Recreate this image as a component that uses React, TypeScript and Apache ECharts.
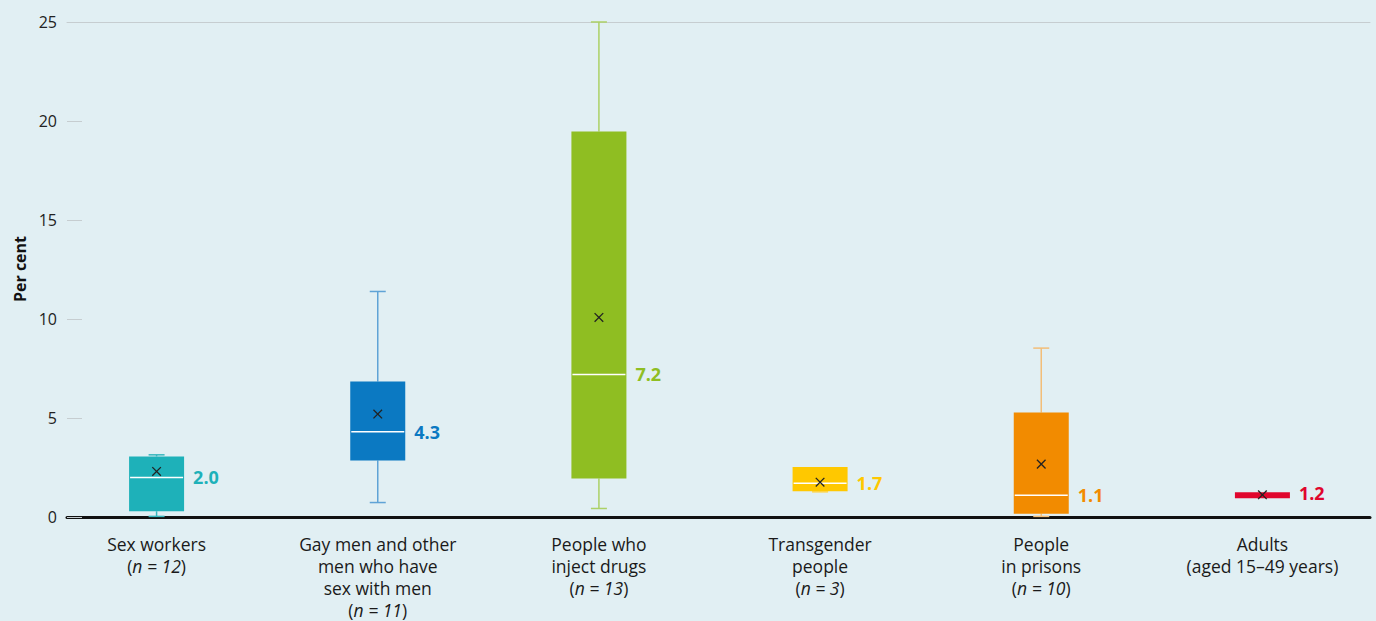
import React, { useEffect, useRef } from "react";
import * as echarts from "echarts";

// ---- Data ----
const categories = [
  "Sex workers",
  "Gay men and other\nmen who have\nsex with men",
  "People who\ninject drugs",
  "Transgender\npeople",
  "People\nin prisons",
  "Adults",
];
const sampleSizes = ["n = 12", "n = 11", "n = 13", "n = 3", "n = 10", ""];
const adultsNote = "(aged 15–49 years)";
const whiskerMin = [0.03, 0.73, 0.43, 1.27, 0.03, 0.95];
const quartile1 = [0.29, 2.85, 1.94, 1.3, 0.16, 0.95];
const medians = [2.0, 4.3, 7.2, 1.7, 1.1, 1.2];
const quartile3 = [3.06, 6.84, 19.47, 2.52, 5.28, 1.25];
const whiskerMax = [3.14, 11.39, 25.0, 2.52, 8.53, 1.25];
const means = [2.3, 5.2, 10.08, 1.76, 2.67, 1.12];
const yMin = 0;
const yMax = 25;
const yInterval = 5;

// ---- Styles ----
const palette = ["#1eb1b9", "#0b79c2", "#8fbe22", "#ffc800", "#f28b00", "#e0062d"];
const whiskerPalette = ["#38b7be", "#5fa3d6", "#acd166", "#ffd54a", "#f3be78", "#e0062d"];
const bg = "#e1eff3";
const fontFamily = "'Open Sans', 'Noto Sans', sans-serif";

export default function App() {
  const ref = useRef<HTMLDivElement>(null);

  useEffect(() => {
    if (!ref.current) return;
    const chart = echarts.init(ref.current, undefined, { renderer: "svg" });

    const seriesData = categories.map((_, i) => [
      i,
      whiskerMin[i],
      quartile1[i],
      medians[i],
      quartile3[i],
      whiskerMax[i],
      means[i],
    ]);

    const option: any = {
      animation: false,
      backgroundColor: bg,
      textStyle: { fontFamily },
      grid: [
        { left: 46, right: 3, top: 22, bottom: 104 },
        { left: 67, right: 6, top: 22, bottom: 104 },
      ],
      xAxis: [
        {
          type: "category",
          gridIndex: 0,
          data: categories,
          axisLine: { show: false },
          axisTick: { show: false },
          splitLine: { show: false },
          axisLabel: {
            interval: 0,
            margin: 16,
            fontSize: 17.5,
            lineHeight: 22,
            color: "#1a1a1a",
            fontFamily,
            formatter: (value: string, idx: number) => {
              const n = sampleSizes[idx];
              if (n) return `${value}\n({i|${n}})`;
              return `${value}\n${adultsNote}`;
            },
            rich: {
              i: {
                fontStyle: "italic",
                fontSize: 17.5,
                lineHeight: 22,
                color: "#1a1a1a",
                fontFamily,
              },
            },
          },
        },
        {
          type: "value",
          gridIndex: 1,
          min: 0,
          max: 1,
          position: "bottom",
          axisLine: { show: true, onZero: false, lineStyle: { color: "#111", width: 3 } },
          axisTick: { show: false },
          axisLabel: { show: false },
          splitLine: { show: false },
        },
        {
          type: "value",
          gridIndex: 1,
          min: 0,
          max: 1,
          position: "top",
          axisLine: { show: true, onZero: false, lineStyle: { color: "#c6cdd0", width: 1 } },
          axisTick: { show: false },
          axisLabel: { show: false },
          splitLine: { show: false },
        },
      ],
      yAxis: [
        {
          type: "value",
          gridIndex: 0,
          min: yMin,
          max: yMax,
          show: false,
        },
        {
          type: "value",
          gridIndex: 1,
          min: yMin,
          max: yMax,
          interval: yInterval,
          axisLine: { show: false },
          axisTick: { show: true, inside: true, length: 15, lineStyle: { color: "#c6cdd0", width: 1 } },
          axisLabel: { margin: 10, fontSize: 16, color: "#222", fontFamily },
          splitLine: { show: false },
        },
      ],
      graphic: [
        {
          type: "text",
          x: 20,
          y: 269,
          rotation: Math.PI / 2,
          style: {
            text: "Per cent",
            font: `bold 16px ${fontFamily}`,
            fill: "#111",
            align: "center",
            verticalAlign: "middle",
          },
        },
      ],
      series: [
        {
          type: "custom",
          xAxisIndex: 0,
          yAxisIndex: 0,
          data: seriesData,
          encode: { x: 0, y: [1, 2, 3, 4, 5, 6] },
          renderItem: (params: any, api: any) => {
            const i = api.value(0);
            const cx = api.coord([i, 0])[0];
            const yLo = api.coord([i, api.value(1)])[1];
            const yQ1 = api.coord([i, api.value(2)])[1];
            const yMed = api.coord([i, api.value(3)])[1];
            const yQ3 = api.coord([i, api.value(4)])[1];
            const yHi = api.coord([i, api.value(5)])[1];
            const yMean = api.coord([i, api.value(6)])[1];
            const half = 27.5;
            const cap = 8;
            const m = 4.3;
            const color = palette[i];
            const wColor = whiskerPalette[i];
            const children: any[] = [];
            if (yHi < yQ3 - 0.5) {
              children.push({
                type: "line",
                shape: { x1: cx, y1: yHi, x2: cx, y2: yQ3 },
                style: { stroke: wColor, lineWidth: 1.5 },
              });
              children.push({
                type: "line",
                shape: { x1: cx - cap, y1: yHi, x2: cx + cap, y2: yHi },
                style: { stroke: wColor, lineWidth: 1.5 },
              });
            }
            if (yLo > yQ1 + 0.5) {
              children.push({
                type: "line",
                shape: { x1: cx, y1: yQ1, x2: cx, y2: yLo },
                style: { stroke: wColor, lineWidth: 1.5 },
              });
              children.push({
                type: "line",
                shape: { x1: cx - cap, y1: yLo, x2: cx + cap, y2: yLo },
                style: { stroke: wColor, lineWidth: 1.5 },
              });
            }
            children.push({
              type: "rect",
              shape: { x: cx - half, y: yQ3, width: half * 2, height: Math.max(yQ1 - yQ3, 1) },
              style: { fill: color },
            });
            if (api.value(4) - api.value(2) > 0.5) {
              children.push({
                type: "line",
                shape: { x1: cx - half + 1, y1: yMed, x2: cx + half - 1, y2: yMed },
                style: { stroke: "#ffffff", lineWidth: 1.5 },
              });
            }
            children.push({
              type: "line",
              shape: { x1: cx - m, y1: yMean - m, x2: cx + m, y2: yMean + m },
              style: { stroke: "#222", lineWidth: 1.3 },
            });
            children.push({
              type: "line",
              shape: { x1: cx - m, y1: yMean + m, x2: cx + m, y2: yMean - m },
              style: { stroke: "#222", lineWidth: 1.3 },
            });
            children.push({
              type: "text",
              x: cx + half + 9,
              y: yMed,
              style: {
                text: Number(api.value(3)).toFixed(1),
                fill: color,
                font: `bold 18px ${fontFamily}`,
                align: "left",
                verticalAlign: "middle",
              },
            });
            return { type: "group", children };
          },
        },
      ],
    };

    chart.setOption(option);
    return () => chart.dispose();
  }, []);

  return (
    <div
      ref={ref}
      style={{ position: "fixed", left: 0, top: 0, width: 1376, height: 621, background: bg }}
    />
  );
}
